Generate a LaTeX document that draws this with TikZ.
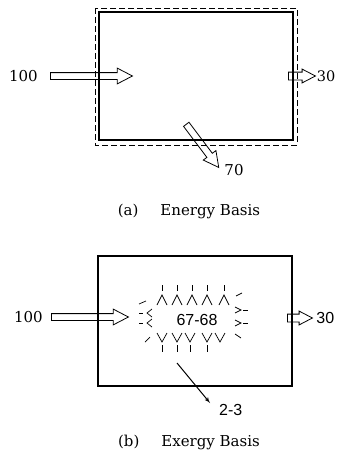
\documentclass[tikz,border=0pt]{standalone}
\usepackage{fontspec}
\newfontfamily\capfont{DejaVu Serif}
\newfontfamily\numsans{Liberation Sans}
\usepackage{tikz}
\usetikzlibrary{shapes, arrows, positioning}
\tikzstyle{fat} = [draw, single arrow, single arrow tip angle=55, single arrow head extend=4.5pt, inner xsep=0pt, inner ysep=3pt, line width=0.8pt, anchor=tail]
\tikzstyle{fatsmall} = [fat, single arrow head extend=3pt, inner ysep=3.5pt]

\begin{document}
\begin{tikzpicture}[x=1pt, y=-1pt, >=latex', node distance=10pt]
        % 样式定义
        \tikzstyle{num} = [inner sep=0pt, font=\capfont\fontsize{15}{18}\selectfont]
        \tikzstyle{sans} = [inner sep=0pt, font=\numsans\fontsize{16}{19}\selectfont]
        \tikzstyle{caption} = [inner sep=0pt, font=\capfont\fontsize{15}{18}\selectfont]
        \tikzstyle{spark} = [line width=0.7pt]

        \useasboundingbox (0,0) rectangle (338,455);

        % (a) 能量
        \draw [line width=0.9pt, dash pattern=on 6pt off 3pt] (95,8) rectangle (297,145);
        \draw [line width=1.2pt] (99,12) rectangle (293,140);
        \node [fat, minimum height=82pt] (inA) at (50,76) {};
        \node [num, left=12pt of inA.tail] (lblInA) {100};
        \node [fatsmall, minimum height=27pt] (outA) at (288,76) {};
        \node [num, right=0.5pt of outA.tip, font=\capfont\fontsize{14.5}{17}\selectfont] (lblOutA) {30};
        \node [fat, minimum height=54pt, rotate=-53] (lossA) at (186,124) {};
        \node [num, right=5pt of lossA.tip, yshift=-2pt] (lblLossA) {70};
        \node [caption] (capA) at (189,211) {(a)\hspace{22pt}Energy Basis};

        % (b) 㶲
        \draw [line width=1.2pt] (98,256) rectangle (292,386);
        \node [fat, minimum height=77pt] (inB) at (51,317) {};
        \node [num, left=8pt of inB.tail] (lblInB) {100};
        \node [fatsmall, minimum height=25pt] (outB) at (287,318) {};
        \node [sans, right=3pt of outB.tip] (lblOutB) {30};
        \node [sans] (core) at (197,320) {67-68};
        \coordinate (lossB) at (177,363);
        \coordinate (lossBend) at (210,403);
        \draw [->, line width=1pt] (lossB) -- (lossBend);
        \node [sans, right=9pt of lossBend, yshift=-7pt] (lblLossB) {2-3};
        \node [caption] (capB) at (189,442) {(b)\hspace{22pt}Exergy Basis};

        % 火花
        \foreach \x in {162,177,192,207,224} {
            \draw [spark] (\x,285) -- (\x,291);
            \draw [spark] (\x-5,305) -- (\x,295) -- (\x+5,305);
        }
        \foreach \x in {162,177,190,207,220}
            \draw [spark] (\x-5,333) -- (\x,342) -- (\x+5,333);
        \foreach \x in {162,177,190,207}
            \draw [spark] (\x,345) -- (\x,352);
        \foreach \y in {313,323} {
            \draw [spark] (139,\y) -- (143,\y);
            \draw [spark] (152,\y-4) -- (147,\y) -- (152,\y+4);
        }
        \foreach \y in {310,323} {
            \draw [spark] (235,\y-3) -- (241,\y) -- (235,\y+3);
            \draw [spark] (243,\y) -- (248,\y);
        }
        \draw [spark] (139,304) -- (146,301);
        \draw [spark] (236,296) -- (242,293);
        \draw [spark] (145,342) -- (150,337);
        \draw [spark] (235,334) -- (241,338);
    \end{tikzpicture}
\end{document}
